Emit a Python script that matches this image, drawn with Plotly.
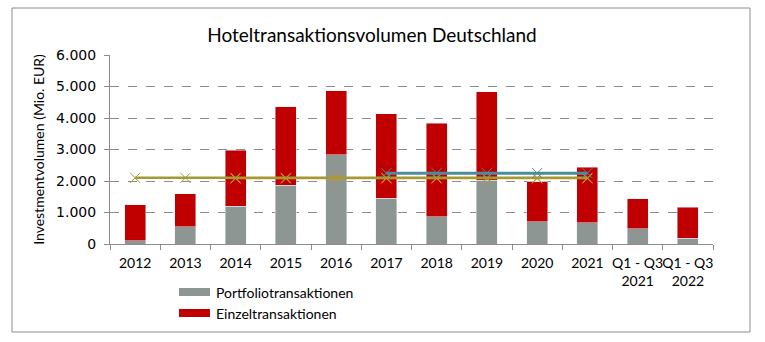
import plotly.graph_objects as go

categories = ["2012", "2013", "2014", "2015", "2016", "2017", "2018", "2019", "2020", "2021",
              "Q1 - Q3<br>2021", "Q1 - Q3<br>2022"]
portfolio = [100, 540, 1200, 1870, 2830, 1460, 860, 2030, 700, 670, 480, 190]
einzel_total = [1240, 1590, 2980, 4350, 4860, 4130, 3840, 4830, 1970, 2440, 1430, 1170]
einzel = [t - p for t, p in zip(einzel_total, portfolio)]
avg10 = [2100, 2100, 2100, 2100, 2100, 2100, 2100, 2100, 2100, 2100, None, None]
avg_orange = [None, None, 2080, 2080, 2080, 2080, 2080, 2080, 2080, 2080, None, None]
avg5 = [None, None, None, None, None, 2250, 2250, 2250, 2250, 2250, None, None]
y_ticks = [0, 1000, 2000, 3000, 4000, 5000, 6000]

W, H = 765, 342
L, R, T, B = 110, 52, 55, 98
pw, ph = W - L - R, H - T - B

def px(x):
    return (x - L) / pw

def py(y):
    return (H - B - y) / ph

fig = go.Figure()
fig.add_bar(x=categories, y=portfolio, marker_color="#8E9694", name="Portfoliotransaktionen",
            showlegend=False)
fig.add_bar(x=categories, y=einzel, marker_color="#C00000", name="Einzeltransaktionen",
            showlegend=False)
fig.add_scatter(x=categories, y=avg_orange, mode="lines+markers",
                line=dict(color="#E8902E", width=1.5),
                marker=dict(symbol="x-thin", size=10, line=dict(color="#E8902E", width=1)),
                showlegend=False)
fig.add_scatter(x=categories, y=avg10, mode="lines+markers",
                line=dict(color="#A39B32", width=2.5),
                marker=dict(symbol="x-thin", size=10, line=dict(color="#A39B32", width=1)),
                showlegend=False)
fig.add_scatter(x=categories, y=avg5, mode="lines+markers",
                line=dict(color="#4A8C9E", width=3),
                marker=dict(symbol="x-thin", size=10, line=dict(color="#4A8C9E", width=1)),
                showlegend=False)

# Outer border
fig.add_shape(type="rect", xref="paper", yref="paper",
              x0=px(12), x1=px(750), y0=py(332), y1=py(8),
              line=dict(color="#8C8C8C", width=1), fillcolor="rgba(0,0,0,0)", layer="below")

# Manual legend
leg_items = [("Portfoliotransaktionen", "#8E9694", 292), ("Einzeltransaktionen", "#C00000", 313)]
for name, col, yc in leg_items:
    fig.add_shape(type="rect", xref="paper", yref="paper",
                  x0=px(179), x1=px(210), y0=py(yc + 4), y1=py(yc - 4),
                  line=dict(width=0), fillcolor=col)
    fig.add_annotation(text=name, xref="paper", yref="paper", x=px(214), y=py(yc),
                       xanchor="left", yanchor="middle", showarrow=False,
                       font=dict(family="Lato", size=14, color="#000000"))

fig.update_layout(
    width=W, height=H,
    margin=dict(l=L, r=R, t=T, b=B),
    barmode="stack", bargap=0.58,
    plot_bgcolor="white", paper_bgcolor="white",
    separators=",.",
    title=dict(text="Hoteltransaktionsvolumen Deutschland", xref="container", x=372 / W,
               xanchor="center", yref="container", y=1 - 35 / H, yanchor="middle",
               font=dict(family="Lato", size=19, color="#000000")),
    font=dict(family="Lato", size=14, color="#000000"),
    xaxis=dict(type="category", range=[-0.5, 11.5], showline=True, linecolor="#8C8C8C",
               ticks="outside", tickson="boundaries", ticklen=5, tickcolor="#8C8C8C",
               showgrid=False, tickangle=0, ticklabelstandoff=6,
               tickfont=dict(family="Lato", size=14)),
    yaxis=dict(range=[0, 6000], tickvals=y_ticks, tickformat=",d", showline=True,
               linecolor="#8C8C8C", ticks="outside", ticklen=5, tickcolor="#8C8C8C",
               gridcolor="#8C8C8C", griddash="dash", gridwidth=1, zeroline=False,
               ticklabelstandoff=5,
               tickfont=dict(family="DejaVu Sans", size=14),
               title=dict(text="Investmentvolumen (Mio. EUR)", standoff=8,
                          font=dict(family="Lato", size=14))),
)

fig.write_html("out.html")
